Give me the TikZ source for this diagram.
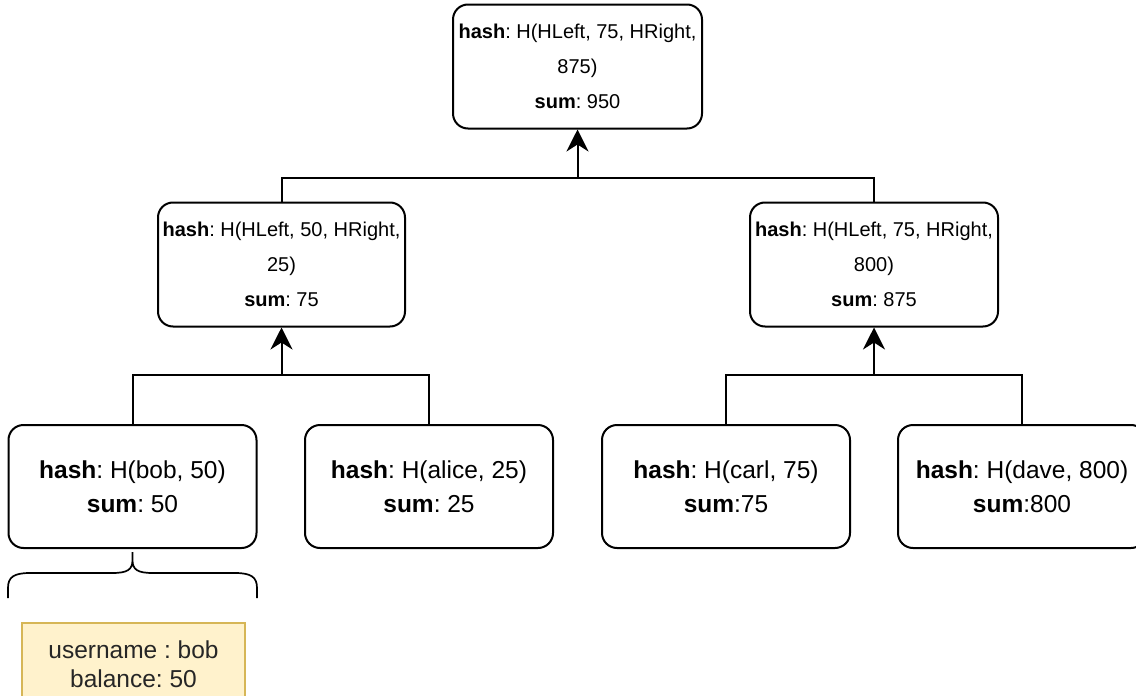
\documentclass[tikz,border=0pt]{standalone}
\usepackage{fontspec}
\setmainfont{Liberation Sans}
\frenchspacing
\usetikzlibrary{arrows.meta}
\definecolor{notefill}{HTML}{FFF2CC}
\definecolor{noteline}{HTML}{D6B656}
\tikzset{
  hashbox/.style={draw=black, line width=2pt, rounded corners=15pt, fill=white,
    align=center, inner sep=0pt},
  innerbox/.style={hashbox, minimum width=248pt, minimum height=124pt,
    font=\fontsize{20}{35}\selectfont},
  leafbox/.style={hashbox, minimum width=248pt, minimum height=123pt,
    font=\fontsize{24.5}{34}\selectfont},
  notebox/.style={draw=noteline, fill=notefill, line width=1.4pt, align=center,
    minimum width=223pt, minimum height=82pt, inner sep=0pt,
    font=\fontsize{24.5}{29}\selectfont, text=black!85},
  link/.style={draw=black, line width=2pt},
  uparrow/.style={link, -{Stealth[length=22pt, width=22pt, inset=7pt]}},
}
\begin{document}
\begin{tikzpicture}[x=1pt, y=-1pt]
  \clip (0,0) rectangle (1136,696);
  \fill[white] (0,0) rectangle (1136,696);

  % root of the sum tree
  \node[innerbox, minimum width=249pt] (root) at (577.5,66.5)
    {\textbf{hash}: H(HLeft, 75, HRight,\\875)\\\textbf{sum}: 950};

  % inner nodes
  \node[innerbox, minimum width=247pt] (midL) at (281.5,264.5)
    {\textbf{hash}: H(HLeft, 50, HRight,\\25)\\\textbf{sum}: 75};
  \node[innerbox] (midR) at (874,264.5)
    {\textbf{hash}: H(HLeft, 75, HRight,\\800)\\\textbf{sum}: 875};

  % leaves
  \node[leafbox] (bob) at (132.5,486.5) {\textbf{hash}: H(bob, 50)\\\textbf{sum}: 50};
  \node[leafbox] (alice) at (429,486.5) {\textbf{hash}: H(alice, 25)\\\textbf{sum}: 25};
  \node[leafbox] (carl) at (726,486.5) {\textbf{hash}: H(carl, 75)\\\textbf{sum}:75};
  \node[leafbox] (dave) at (1022,486.5) {\textbf{hash}: H(dave, 800)\\\textbf{sum}:800};

  % junctions where sibling links meet
  \coordinate (jTop) at (577.5,178);
  \coordinate (jL) at (281.5,375);
  \coordinate (jR) at (874,375);

  % links between levels
  \draw[link] (midL.north) |- (jTop) -| (midR.north);
  \draw[uparrow] (jTop) -- (root.south);
  \draw[link] (bob.north) |- (jL) -| (alice.north);
  \draw[uparrow] (jL) -- (midL.south);
  \draw[link] (carl.north) |- (jR) -| (dave.north);
  \draw[uparrow] (jR) -- (midR.south);

  % curly brace under the bob leaf
  \draw[link, line width=1.7pt]
    (8,598) -- (8,588) .. controls (8,577) and (14,573) .. (30,573)
    -- (112,573) .. controls (127,573) and (132.5,570) .. (132.5,560) -- (132.5,552)
    (132.5,560) .. controls (132.5,570) and (138,573) .. (153,573)
    -- (235,573) .. controls (251,573) and (257,577) .. (257,588) -- (257,598);

  % account record
  \node[notebox] (acct) at (133.5,664) {username : bob\\balance: 50};
\end{tikzpicture}
\end{document}
